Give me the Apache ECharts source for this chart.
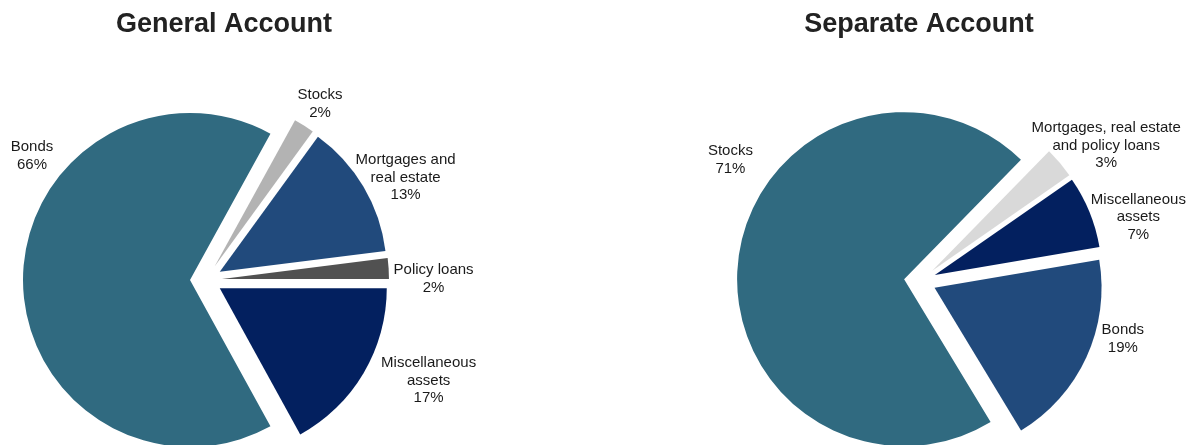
<!DOCTYPE html>
<html>
<head>
<meta charset="utf-8">
<script src="https://cdn.jsdelivr.net/npm/echarts@6/dist/echarts.min.js"></script>
<style>
  html, body { margin: 0; padding: 0; background: #ffffff; }
  #chart { width: 1194px; height: 445px; }
</style>
</head>
<body>
<div id="chart"></div>
<script>
// Asset mix, percent of total, listed clockwise from the first slice
const chartTitles = ['General Account', 'Separate Account'];

const generalNames = ['Stocks', 'Mortgages and\nreal estate', 'Policy loans', 'Miscellaneous\nassets', 'Bonds'];
const generalValues = [2, 13, 2, 17, 66];

const separateNames = ['Mortgages, real estate\nand policy loans', 'Miscellaneous\nassets', 'Bonds', 'Stocks'];
const separateValues = [3, 7, 19, 71];

// Slice colours
const generalColors = ['#b3b3b3', '#214a7c', '#515151', '#03205f', '#306a80'];
const separateColors = ['#d9d9d9', '#03205f', '#214a7c', '#306a80'];

// Label nudges [dx, dy] from the library's outside label position
const generalNudge = [[-4, 2], [13, 5], [12, 12], [36, -7], [42, -124]];
const separateNudge = [[20, 1], [18, 16], [6, -30], [25, -97]];

const FONT = '"Liberation Sans", Arial, Helvetica, sans-serif';

function buildData(names, values, colors) {
  return names.map((n, i) => ({
    name: n,
    value: values[i],
    selected: true,
    itemStyle: { color: colors[i] },
    select: { itemStyle: { color: colors[i], borderWidth: 0 } }
  }));
}

function pieSeries(names, values, colors, nudge, center, startAngle) {
  return {
    type: 'pie',
    center: center,
    radius: 167,
    startAngle: startAngle,
    clockwise: true,
    selectedMode: 'multiple',
    selectedOffset: 16,
    avoidLabelOverlap: false,
    silent: true,
    animation: false,
    itemStyle: { borderWidth: 0 },
    label: {
      show: true,
      position: 'outside',
      alignTo: 'none',
      fontFamily: FONT,
      fontSize: 15,
      lineHeight: 17.5,
      color: '#1a1a1a',
      formatter: p => p.name + '\n' + p.value + '%'
    },
    labelLine: { show: false, length: 28, length2: 0 },
    labelLayout: p => ({
      align: 'center',
      verticalAlign: 'middle',
      dx: nudge[p.dataIndex][0],
      dy: nudge[p.dataIndex][1]
    }),
    data: buildData(names, values, colors)
  };
}

const titleStyle = { fontFamily: FONT, fontSize: 27, fontWeight: 'bold', color: '#222222' };

const chart = echarts.init(document.getElementById('chart'), null, { renderer: 'canvas' });
chart.setOption({
  animation: false,
  backgroundColor: '#ffffff',
  title: [
    { text: chartTitles[0], left: 224, top: 11, padding: 0, textAlign: 'center', textStyle: titleStyle },
    { text: chartTitles[1], left: 919, top: 11, padding: 0, textAlign: 'center', textStyle: titleStyle }
  ],
  series: [
    pieSeries(generalNames, generalValues, generalColors, generalNudge, [206, 280], 61.2),
    pieSeries(separateNames, separateValues, separateColors, separateNudge, [920, 281], 45.6)
  ]
});
</script>
</body>
</html>
